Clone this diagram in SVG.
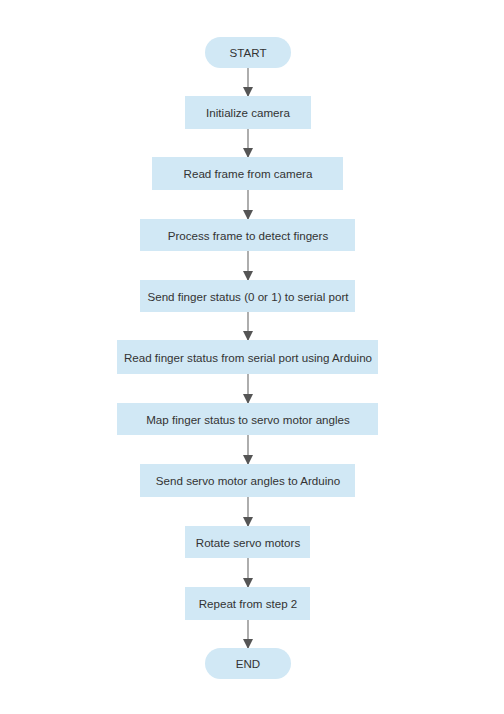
<svg xmlns="http://www.w3.org/2000/svg" width="504" height="714" viewBox="0 0 504 714">
<defs>
<marker id="ah" markerWidth="10" markerHeight="10" refX="9" refY="5" orient="auto" markerUnits="userSpaceOnUse">
<path d="M0,0 L10,5 L0,10 z" fill="#555"/>
</marker>
<style>
.n{fill:#D1E8F5;}
.t{font-family:"Liberation Sans",Arial,sans-serif;font-size:11.6px;fill:#333;text-anchor:middle;dominant-baseline:central;}
.c{stroke:#777;stroke-width:1.2;fill:none;marker-end:url(#ah);}
</style>
</defs>
<rect width="504" height="714" fill="#fff"/>
<g id="connectors">
<line class="c" x1="248" y1="68" x2="248" y2="96"/>
<line class="c" x1="248" y1="129" x2="248" y2="157"/>
<line class="c" x1="248" y1="190" x2="248" y2="219"/>
<line class="c" x1="248" y1="251" x2="248" y2="280"/>
<line class="c" x1="248" y1="312" x2="248" y2="340"/>
<line class="c" x1="248" y1="374" x2="248" y2="403"/>
<line class="c" x1="248" y1="435" x2="248" y2="464"/>
<line class="c" x1="248" y1="497" x2="248" y2="526"/>
<line class="c" x1="248" y1="558" x2="248" y2="587"/>
<line class="c" x1="248" y1="620" x2="248" y2="648"/>
</g>
<g id="start"><rect class="n" x="205" y="37" width="86" height="31" rx="15.5"/><text class="t" x="248" y="52.5">START</text></g>
<g id="n1"><rect class="n" x="185" y="96" width="126" height="33"/><text class="t" x="248" y="112.5">Initialize camera</text></g>
<g id="n2"><rect class="n" x="152" y="157" width="191" height="33"/><text class="t" x="248" y="173.5">Read frame from camera</text></g>
<g id="n3"><rect class="n" x="140" y="219" width="215" height="32"/><text class="t" x="248" y="235">Process frame to detect fingers</text></g>
<g id="n4"><rect class="n" x="140" y="280" width="215" height="32"/><text class="t" x="248" y="296">Send finger status (0 or 1) to serial port</text></g>
<g id="n5"><rect class="n" x="117" y="340" width="261" height="34"/><text class="t" x="248" y="357">Read finger status from serial port using Arduino</text></g>
<g id="n6"><rect class="n" x="117" y="403" width="261" height="32"/><text class="t" x="248" y="419">Map finger status to servo motor angles</text></g>
<g id="n7"><rect class="n" x="140" y="464" width="215" height="33"/><text class="t" x="248" y="480.5">Send servo motor angles to Arduino</text></g>
<g id="n8"><rect class="n" x="185" y="526" width="125" height="32"/><text class="t" x="248" y="542">Rotate servo motors</text></g>
<g id="n9"><rect class="n" x="185" y="587" width="125" height="33"/><text class="t" x="248" y="603.5">Repeat from step 2</text></g>
<g id="end"><rect class="n" x="205" y="648" width="86" height="31" rx="15.5"/><text class="t" x="248" y="663.5">END</text></g>
</svg>
